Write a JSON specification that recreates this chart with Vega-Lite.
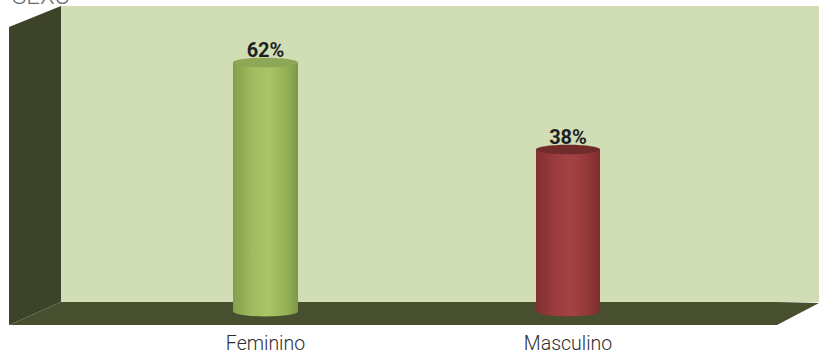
{"$schema":"https://vega.github.io/schema/vega-lite/v6.json","width":810,"height":319,"padding":{"left":9,"top":6,"right":0,"bottom":28},"autosize":{"type":"none"},"background":"white","view":{"stroke":null,"fill":null},"config":{"font":"Roboto"},"datasets":{"walls":[{"part":"fundo","px":52,"alto":319,"baixo":23},{"part":"fundo","px":810,"alto":319,"baixo":23},{"part":"lateral","px":0,"alto":298,"baixo":0},{"part":"lateral","px":52,"alto":319,"baixo":23},{"part":"piso","px":0,"alto":0,"baixo":0},{"part":"piso","px":52,"alto":23,"baixo":0},{"part":"piso","px":768,"alto":23,"baixo":0},{"part":"piso","px":810,"alto":22,"baixo":22}],"sexo":[{"sexo":"Feminino","pct":0.62},{"sexo":"Masculino","pct":0.38}]},"resolve":{"scale":{"x":"independent","y":"independent","color":"independent"}},"layer":[{"data":{"name":"walls"},"mark":{"type":"area","opacity":1},"encoding":{"x":{"field":"px","type":"quantitative","scale":{"domain":[0,810],"nice":false,"zero":false},"axis":null},"y":{"field":"alto","type":"quantitative","scale":{"domain":[0,319],"nice":false},"axis":null},"y2":{"field":"baixo"},"color":{"field":"part","type":"nominal","scale":{"domain":["fundo","lateral","piso"],"range":["#d1ddb5","#3c4329","#474f2e"]},"legend":null}}},{"data":{"values":[{"t":"SEXO"}]},"mark":{"type":"text","font":"Roboto","fontWeight":300,"fontSize":24,"align":"left","baseline":"alphabetic","color":"#6d6d6d","clip":false},"encoding":{"x":{"datum":3,"type":"quantitative","scale":{"domain":[0,810],"nice":false,"zero":false},"axis":null},"y":{"datum":321,"type":"quantitative","scale":{"domain":[0,319],"nice":false},"axis":null},"text":{"field":"t"}}},{"data":{"name":"sexo"},"transform":[{"filter":"datum.sexo === 'Feminino'"}],"mark":{"type":"bar","width":65,"fill":{"gradient":"linear","x1":0,"y1":0,"x2":1,"y2":0,"stops":[{"offset":0,"color":"#82a04c"},{"offset":0.3,"color":"#a0bc5e"},{"offset":0.55,"color":"#aac566"},{"offset":0.8,"color":"#97b257"},{"offset":1,"color":"#7d9846"}]}},"encoding":{"x":{"field":"sexo","type":"nominal","scale":{"type":"band","domain":["Feminino","Masculino"],"range":[105.25,710.25],"padding":0},"axis":{"title":null,"domain":false,"ticks":false,"labelAngle":0,"labelFont":"Roboto","labelFontWeight":300,"labelFontSize":19.5,"labelColor":"#2e2e2e","labelPadding":9}},"y":{"field":"pct","type":"quantitative","scale":{"domain":[-0.1041,0.7759],"nice":false,"zero":false},"axis":null},"y2":{"datum":-0.0669}}},{"data":{"name":"sexo"},"transform":[{"filter":"datum.sexo === 'Masculino'"}],"mark":{"type":"bar","width":64,"fill":{"gradient":"linear","x1":0,"y1":0,"x2":1,"y2":0,"stops":[{"offset":0,"color":"#80302f"},{"offset":0.3,"color":"#9b3b3d"},{"offset":0.55,"color":"#a44143"},{"offset":0.8,"color":"#953839"},{"offset":1,"color":"#7c2d2d"}]}},"encoding":{"x":{"field":"sexo","type":"nominal","scale":{"type":"band","domain":["Feminino","Masculino"],"range":[105.25,710.25],"padding":0},"axis":null},"y":{"field":"pct","type":"quantitative","scale":{"domain":[-0.1041,0.7759],"nice":false,"zero":false},"axis":null},"y2":{"datum":-0.0669}}},{"data":{"name":"sexo"},"transform":[{"filter":"datum.sexo === 'Feminino'"}],"mark":{"type":"point","filled":true,"opacity":1,"size":4225,"strokeWidth":0,"shape":"M-1,0 A1,0.15 0 1 1 1,0 A1,0.15 0 1 1 -1,0 Z","fill":{"gradient":"linear","x1":0,"y1":0,"x2":1,"y2":0,"stops":[{"offset":0,"color":"#82a04c"},{"offset":0.3,"color":"#a0bc5e"},{"offset":0.55,"color":"#aac566"},{"offset":0.8,"color":"#97b257"},{"offset":1,"color":"#7d9846"}]}},"encoding":{"x":{"field":"sexo","type":"nominal","scale":{"type":"band","domain":["Feminino","Masculino"],"range":[105.25,710.25],"padding":0},"axis":null},"y":{"datum":-0.0669,"type":"quantitative","scale":{"domain":[-0.1041,0.7759],"nice":false,"zero":false},"axis":null}}},{"data":{"name":"sexo"},"transform":[{"filter":"datum.sexo === 'Masculino'"}],"mark":{"type":"point","filled":true,"opacity":1,"size":4096,"strokeWidth":0,"shape":"M-1,0 A1,0.15 0 1 1 1,0 A1,0.15 0 1 1 -1,0 Z","fill":{"gradient":"linear","x1":0,"y1":0,"x2":1,"y2":0,"stops":[{"offset":0,"color":"#80302f"},{"offset":0.3,"color":"#9b3b3d"},{"offset":0.55,"color":"#a44143"},{"offset":0.8,"color":"#953839"},{"offset":1,"color":"#7c2d2d"}]}},"encoding":{"x":{"field":"sexo","type":"nominal","scale":{"type":"band","domain":["Feminino","Masculino"],"range":[105.25,710.25],"padding":0},"axis":null},"y":{"datum":-0.0669,"type":"quantitative","scale":{"domain":[-0.1041,0.7759],"nice":false,"zero":false},"axis":null}}},{"data":{"name":"sexo"},"mark":{"type":"point","filled":true,"opacity":1,"strokeWidth":0,"shape":"M-1,0 A1,0.15 0 1 1 1,0 A1,0.15 0 1 1 -1,0 Z"},"encoding":{"x":{"field":"sexo","type":"nominal","scale":{"type":"band","domain":["Feminino","Masculino"],"range":[105.25,710.25],"padding":0},"axis":null},"y":{"field":"pct","type":"quantitative","scale":{"domain":[-0.1041,0.7759],"nice":false,"zero":false},"axis":null},"size":{"field":"sexo","type":"nominal","scale":{"domain":["Feminino","Masculino"],"range":[4225,4096]},"legend":null},"color":{"field":"sexo","type":"nominal","scale":{"domain":["Feminino","Masculino"],"range":["#8ea756","#702c2a"]},"legend":null}}},{"data":{"name":"sexo"},"mark":{"type":"text","font":"Roboto","fontWeight":"bold","fontSize":20,"baseline":"alphabetic","color":"#1f1f1f","dy":-6},"encoding":{"x":{"field":"sexo","type":"nominal","scale":{"type":"band","domain":["Feminino","Masculino"],"range":[105.25,710.25],"padding":0},"axis":null},"y":{"field":"pct","type":"quantitative","scale":{"domain":[-0.1041,0.7759],"nice":false,"zero":false},"axis":null},"text":{"field":"pct","type":"quantitative","format":".0%"}}}]}
